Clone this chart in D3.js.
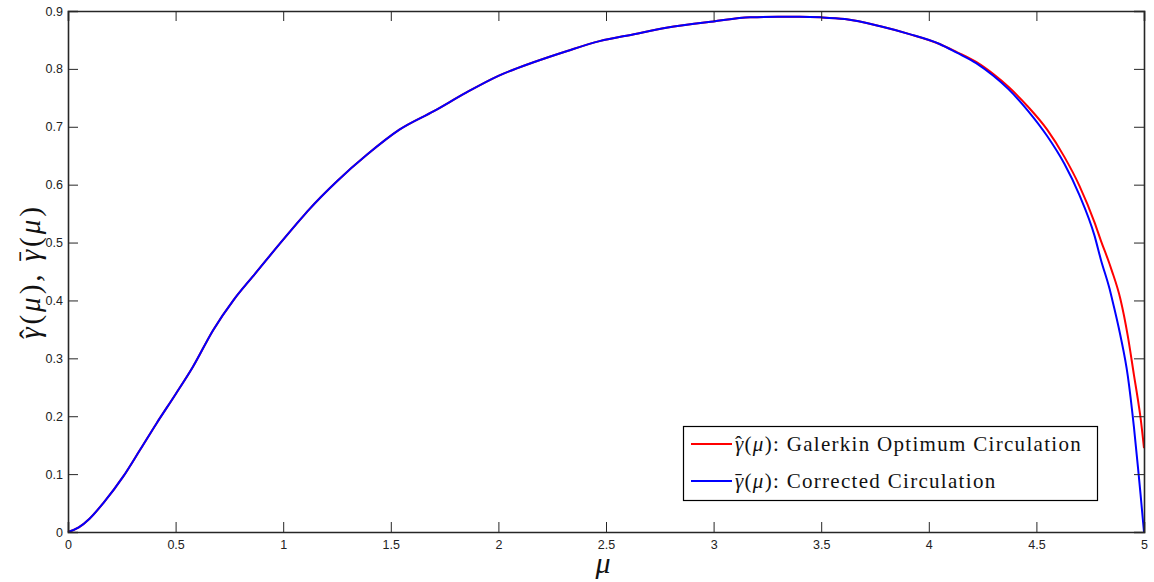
<!DOCTYPE html>
<html>
<head>
<meta charset="utf-8">
<script src="https://cdn.jsdelivr.net/npm/d3@7"></script>
<style>
  body { margin: 0; background: #fff; }
  svg { display: block; }
  .tick text { font-family: "Liberation Sans", Arial, sans-serif; font-size: 12.5px; fill: #222; }
  .serif { font-family: "Liberation Serif", "Times New Roman", serif; fill: #111; }
</style>
</head>
<body>
<div id="chart"></div>
<script>
// mu grid (x)
var mu = [0, 0.05, 0.1, 0.164, 0.257, 0.335, 0.412, 0.5, 0.58, 0.675, 0.77, 0.86, 1.0, 1.08, 1.12,
  1.25, 1.39, 1.54, 1.7, 1.85, 2.0, 2.16, 2.32, 2.47, 2.63, 2.78, 3.0, 3.17, 3.3, 3.4, 3.5, 3.61,
  3.77, 3.91, 4.05, 4.13, 4.22, 4.3, 4.37, 4.46, 4.55, 4.63, 4.7, 4.77, 4.8, 4.84, 4.85, 4.89,
  4.925, 4.953, 4.976, 4.984, 5.0];

// corrected circulation (blue)
var gammaBar = [0, 0.008, 0.023, 0.050, 0.096, 0.142, 0.188, 0.238, 0.285, 0.349, 0.401, 0.442, 0.505, 0.540, 0.557,
  0.606, 0.652, 0.695, 0.727, 0.759, 0.788, 0.811, 0.831, 0.848, 0.860, 0.871, 0.882, 0.889, 0.890, 0.890, 0.889, 0.886,
  0.874, 0.860, 0.843, 0.828, 0.810, 0.788, 0.765, 0.728, 0.684, 0.636, 0.582, 0.512, 0.470, 0.420, 0.405, 0.340,
  0.269, 0.182, 0.096, 0.065, 0.0];

// Galerkin optimum circulation (red)
var gammaHat = [0, 0.008, 0.023, 0.050, 0.096, 0.142, 0.188, 0.238, 0.285, 0.349, 0.401, 0.442, 0.505, 0.540, 0.557,
  0.606, 0.652, 0.695, 0.727, 0.759, 0.788, 0.811, 0.831, 0.848, 0.860, 0.871, 0.882, 0.889, 0.890, 0.890, 0.889, 0.886,
  0.874, 0.860, 0.843, 0.829, 0.812, 0.791, 0.769, 0.735, 0.695, 0.648, 0.598, 0.535, 0.503, 0.463, 0.452, 0.403,
  0.338, 0.272, 0.218, 0.197, 0.145];

var xTicks = [0, 0.5, 1, 1.5, 2, 2.5, 3, 3.5, 4, 4.5, 5];
var yTicks = [0, 0.1, 0.2, 0.3, 0.4, 0.5, 0.6, 0.7, 0.8, 0.9];

var legendAccents = ["\u02C6", "\u02C9"];   // hat, bar
var legendNames = ["Galerkin Optimum Circulation", "Corrected Circulation"];
var legendColors = ["#ff0000", "#0000ff"];

var W = 1154, H = 582;
var margin = {top: 11, right: 10, bottom: 50, left: 68};
var w = W - margin.left - margin.right, h = H - margin.top - margin.bottom;

var svg = d3.select("#chart").append("svg").attr("width", W).attr("height", H);
var g = svg.append("g").attr("transform", "translate(" + margin.left + "," + margin.top + ")");

var x = d3.scaleLinear().domain([0, 5]).range([0, w]);
var y = d3.scaleLinear().domain([0, 0.9]).range([h, 0]);

// curves
var line = d3.line().curve(d3.curveMonotoneX)
  .x(function(d){ return x(d[0]); }).y(function(d){ return y(d[1]); });
var redData = mu.map(function(m, i){ return [m, gammaHat[i]]; });
var blueData = mu.map(function(m, i){ return [m, gammaBar[i]]; });

g.append("path").datum(redData).attr("d", line)
  .attr("fill", "none").attr("stroke", legendColors[0]).attr("stroke-width", 2);
g.append("path").datum(blueData).attr("d", line)
  .attr("fill", "none").attr("stroke", legendColors[1]).attr("stroke-width", 2);

// axes, ticks inward on all four sides
var fmt = d3.format("");
var axBottom = g.append("g").attr("transform", "translate(0," + h + ")")
  .call(d3.axisBottom(x).tickValues(xTicks).tickFormat(fmt).tickSize(-10).tickPadding(8));
var axLeft = g.append("g")
  .call(d3.axisLeft(y).tickValues(yTicks).tickFormat(fmt).tickSize(-10).tickPadding(5));
var axTop = g.append("g")
  .call(d3.axisTop(x).tickValues(xTicks).tickFormat("").tickSize(-10));
var axRight = g.append("g").attr("transform", "translate(" + w + ",0)")
  .call(d3.axisRight(y).tickValues(yTicks).tickFormat("").tickSize(-10));

[axBottom, axLeft, axTop, axRight].forEach(function(a){
  a.selectAll(".domain").attr("stroke", "#262626").attr("stroke-width", 1.6);
  a.selectAll(".tick line").attr("stroke", "#262626").attr("stroke-width", 1);
});

// gamma with an accent, followed by (mu)
function gammaOf(txt, accent, fs, ls) {
  txt.append("tspan").style("font-style", "italic").text("\u03B3");
  var up = accent === "\u02C9" ? -0.06 * fs : 0;
  txt.append("tspan").attr("dx", -(0.40 * fs + ls)).attr("dy", up).text(accent);
  txt.append("tspan").attr("dx", 0.06 * fs).attr("dy", -up).text("(");
  txt.append("tspan").style("font-style", "italic").text("\u03BC");
  txt.append("tspan").text(")");
}

// axis titles
svg.append("text").attr("class", "serif")
  .attr("x", 603).attr("y", 573)
  .attr("text-anchor", "middle")
  .style("font-style", "italic").style("font-size", "30px")
  .text("\u03BC");

var ylab = svg.append("text").attr("class", "serif")
  .attr("transform", "translate(40," + (margin.top + h / 2) + ") rotate(-90)")
  .attr("text-anchor", "middle")
  .style("font-size", "29px").style("letter-spacing", "3px");
gammaOf(ylab, "\u02C6", 29, 3);
ylab.append("tspan").text(", ");
gammaOf(ylab, "\u02C9", 29, 3);

// legend
var lg = svg.append("g");
lg.append("rect").attr("x", 683.5).attr("y", 426.5).attr("width", 414).attr("height", 74)
  .attr("fill", "#fff").attr("stroke", "#000").attr("stroke-width", 1.2);

var legendY = [444, 481];
legendNames.forEach(function(t, i){
  lg.append("line").attr("x1", 691).attr("x2", 732).attr("y1", legendY[i]).attr("y2", legendY[i])
    .attr("stroke", legendColors[i]).attr("stroke-width", 2);
  var lt = lg.append("text").attr("class", "serif").attr("x", 735).attr("y", legendY[i] + 7)
    .style("font-size", "21px").style("letter-spacing", "1.3px");
  gammaOf(lt, legendAccents[i], 21, 1.3);
  lt.append("tspan").text(": " + t);
});
</script>
</body>
</html>
